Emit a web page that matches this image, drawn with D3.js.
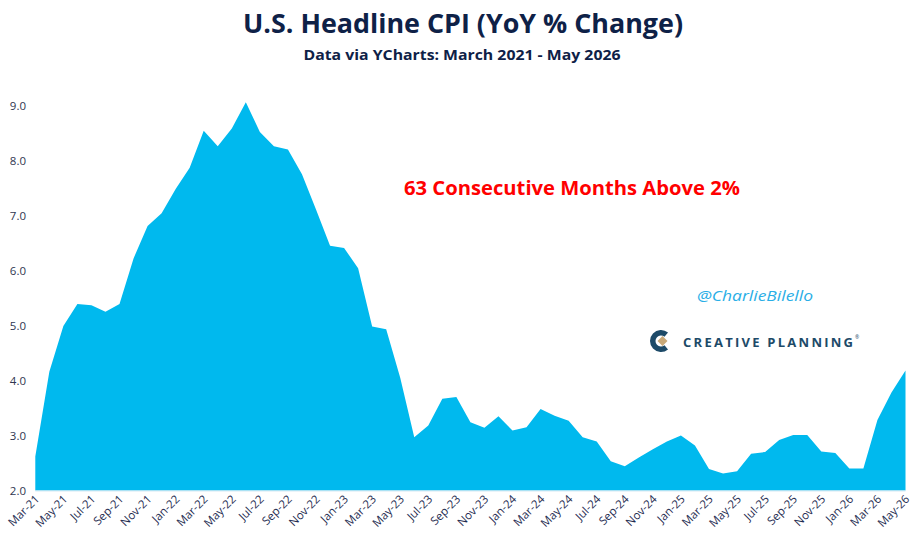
<!DOCTYPE html>
<html>
<head>
<meta charset="utf-8">
<script src="https://cdn.jsdelivr.net/npm/d3@7"></script>
<style>
  body { margin: 0; background: #fff; }
  svg { display: block; }
</style>
</head>
<body>
<svg id="chart" width="918" height="539"></svg>
<script>
// Monthly YoY % change, Mar-21 .. May-26
const months = [
  'Mar-21','Apr-21','May-21','Jun-21','Jul-21','Aug-21','Sep-21','Oct-21','Nov-21','Dec-21',
  'Jan-22','Feb-22','Mar-22','Apr-22','May-22','Jun-22','Jul-22','Aug-22','Sep-22','Oct-22','Nov-22','Dec-22',
  'Jan-23','Feb-23','Mar-23','Apr-23','May-23','Jun-23','Jul-23','Aug-23','Sep-23','Oct-23','Nov-23','Dec-23',
  'Jan-24','Feb-24','Mar-24','Apr-24','May-24','Jun-24','Jul-24','Aug-24','Sep-24','Oct-24','Nov-24','Dec-24',
  'Jan-25','Feb-25','Mar-25','Apr-25','May-25','Jun-25','Jul-25','Aug-25','Sep-25','Oct-25','Nov-25','Dec-25',
  'Jan-26','Feb-26','Mar-26','Apr-26','May-26'
];

const cpi = [
  2.62, 4.16, 4.99, 5.39, 5.37, 5.25, 5.39, 6.22, 6.81, 7.04,
  7.48, 7.87, 8.54, 8.26, 8.58, 9.06, 8.52, 8.26, 8.20, 7.75, 7.11, 6.45,
  6.41, 6.04, 4.98, 4.93, 4.05, 2.97, 3.18, 3.67, 3.70, 3.24, 3.14, 3.35,
  3.09, 3.15, 3.48, 3.36, 3.27, 2.97, 2.89, 2.53, 2.44, 2.60, 2.75, 2.89,
  3.00, 2.82, 2.39, 2.31, 2.35, 2.67, 2.70, 2.92, 3.01, 3.01, 2.71, 2.68,
  2.40, 2.40, 3.28, 3.78, 4.18
];

const yTicks = [2, 3, 4, 5, 6, 7, 8, 9];

const svg = d3.select('#chart');
const plot = { left: 35.3, right: 905.5, top: 105.5, bottom: 490.5 };

const x = d3.scalePoint()
  .domain(months)
  .range([plot.left, plot.right]);

const y = d3.scaleLinear()
  .domain([2, 9])
  .range([plot.bottom, plot.top]);

// area
const area = d3.area()
  .x((d, i) => x(months[i]))
  .y0(y(2))
  .y1(d => y(d));

svg.append('path')
  .datum(cpi)
  .attr('fill', '#00b9ee')
  .attr('d', area);

// x axis baseline
svg.append('line')
  .attr('x1', plot.left).attr('x2', plot.right)
  .attr('y1', y(2) + 0.5).attr('y2', y(2) + 0.5)
  .attr('stroke', '#d6e9f3')
  .attr('stroke-width', 1);

// y axis labels
const yAxis = d3.axisLeft(y)
  .tickValues(yTicks)
  .tickFormat(d3.format('.1f'))
  .tickSize(0)
  .tickPadding(0);

const gy = svg.append('g')
  .attr('transform', 'translate(26,0)')
  .call(yAxis);
gy.select('.domain').remove();
gy.selectAll('text')
  .attr('font-family', 'Open Sans, sans-serif')
  .attr('font-size', 11.5)
  .attr('fill', '#2f3650');

// x axis labels, every other month
const xAxis = d3.axisBottom(x)
  .tickValues(months.filter((m, i) => i % 2 === 0))
  .tickSize(0)
  .tickPadding(0);

const gx = svg.append('g')
  .attr('transform', `translate(0,${y(2) + 8})`)
  .call(xAxis);
gx.select('.domain').remove();
gx.selectAll('text')
  .attr('font-family', 'Open Sans, sans-serif')
  .attr('font-size', 11.5)
  .attr('fill', '#1f2d52')
  .attr('text-anchor', 'end')
  .attr('dy', '0.35em')
  .attr('transform', 'rotate(-45) translate(2,0)');

// titles
svg.append('text')
  .attr('x', 463).attr('y', 33)
  .attr('text-anchor', 'middle')
  .attr('font-family', 'Open Sans, sans-serif')
  .attr('font-weight', 700)
  .attr('font-size', 27)
  .attr('fill', '#0e2147')
  .attr('textLength', 440)
  .attr('lengthAdjust', 'spacingAndGlyphs')
  .text('U.S. Headline CPI (YoY % Change)');

svg.append('text')
  .attr('x', 462).attr('y', 60)
  .attr('text-anchor', 'middle')
  .attr('font-family', 'Open Sans, sans-serif')
  .attr('font-weight', 700)
  .attr('font-size', 15)
  .attr('fill', '#0e2147')
  .attr('textLength', 317)
  .attr('lengthAdjust', 'spacingAndGlyphs')
  .text('Data via YCharts: March 2021 - May 2026');

// annotation
svg.append('text')
  .attr('x', 572).attr('y', 195)
  .attr('text-anchor', 'middle')
  .attr('font-family', 'Open Sans, sans-serif')
  .attr('font-weight', 700)
  .attr('font-size', 19)
  .attr('fill', '#ff0000')
  .attr('textLength', 336)
  .attr('lengthAdjust', 'spacingAndGlyphs')
  .text('63 Consecutive Months Above 2%');

svg.append('text')
  .attr('x', 755).attr('y', 301)
  .attr('text-anchor', 'middle')
  .attr('font-family', 'Open Sans, sans-serif')
  .attr('font-style', 'italic')
  .attr('font-size', 15)
  .attr('fill', '#29aee6')
  .attr('textLength', 116)
  .attr('lengthAdjust', 'spacingAndGlyphs')
  .text('@CharlieBilello');

// logo: C mark opening to the right with a gold diamond inside
const logo = svg.append('g').attr('transform', 'translate(661,341)');
logo.append('path')
  .attr('d', d3.arc()({ innerRadius: 5.5, outerRadius: 11, startAngle: Math.PI * 0.78, endAngle: Math.PI * 2.22 }))
  .attr('fill', '#1d4a68');
logo.append('path')
  .attr('d', 'M0,-5 L5,0 L0,5 L-5,0 Z')
  .attr('transform', 'translate(1.5,0)')
  .attr('fill', '#c9a978');

svg.append('text')
  .attr('x', 683).attr('y', 347)
  .attr('font-family', 'Open Sans, sans-serif')
  .attr('font-weight', 700)
  .attr('font-size', 13)
  .attr('fill', '#1d4a68')
  .attr('textLength', 170)
  .attr('lengthAdjust', 'spacing')
  .text('CREATIVE PLANNING');
svg.append('text')
  .attr('x', 855).attr('y', 339)
  .attr('font-family', 'Open Sans, sans-serif')
  .attr('font-size', 5)
  .attr('fill', '#1d4a68')
  .text('®');
</script>
</body>
</html>
